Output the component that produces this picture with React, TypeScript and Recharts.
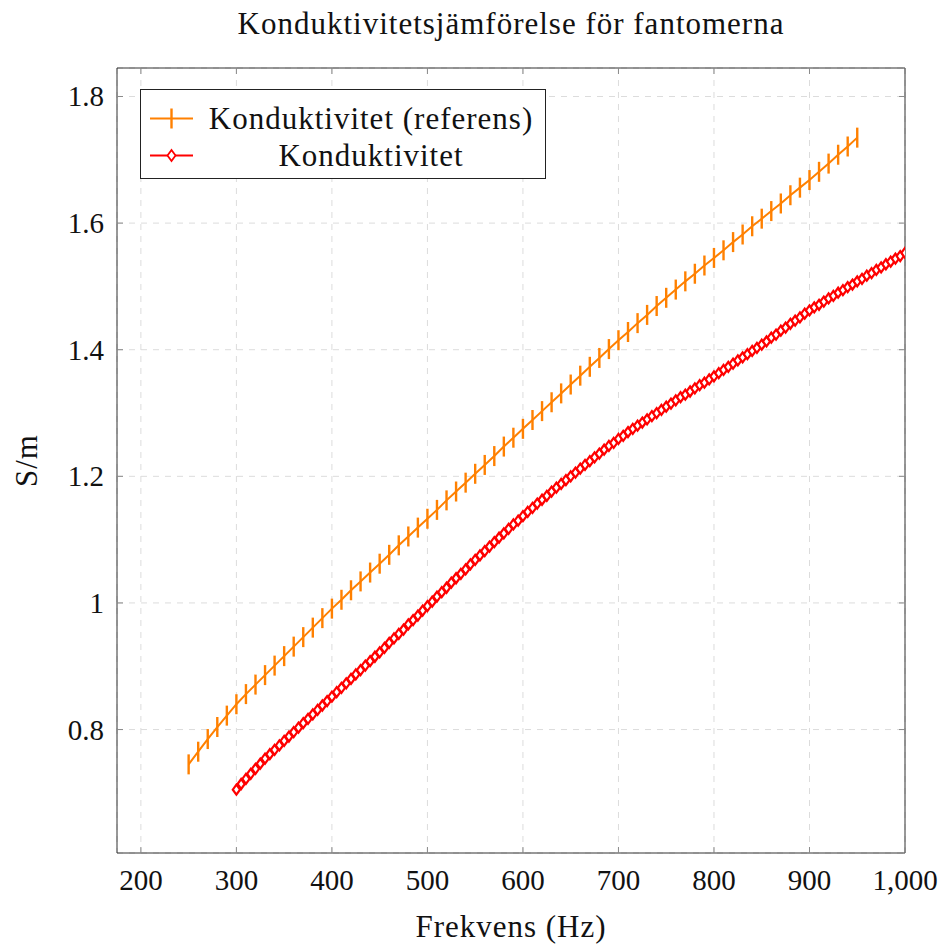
import { CartesianGrid, Label, Legend, Line, LineChart, XAxis, YAxis } from 'recharts'

const ORANGE = '#ff8000'
const RED = '#ff0000'
const FONT = "'Liberation Serif', 'Times New Roman', serif"
const FS = 29 // siffror
const FS_TEXT = 31 // rubriker och förklaring
const LS = 1

// referensmätning, steg 10 Hz
const referensFrekvens = [
  250, 260, 270, 280, 290, 300, 310, 320, 330, 340, 350, 360, 370, 380, 390,
  400, 410, 420, 430, 440, 450, 460, 470, 480, 490, 500, 510, 520, 530, 540,
  550, 560, 570, 580, 590, 600, 610, 620, 630, 640, 650, 660, 670, 680, 690,
  700, 710, 720, 730, 740, 750, 760, 770, 780, 790, 800, 810, 820, 830, 840,
  850, 860, 870, 880, 890, 900, 910, 920, 930, 940, 950,
]
const referensVarden = [
  0.745, 0.765, 0.785, 0.804, 0.822, 0.840, 0.856, 0.871, 0.886, 0.901, 0.916,
  0.931, 0.946, 0.961, 0.976, 0.991, 1.005, 1.020, 1.034, 1.048, 1.062, 1.076,
  1.091, 1.105, 1.119, 1.133, 1.147, 1.162, 1.176, 1.190, 1.204, 1.218, 1.232,
  1.247, 1.261, 1.275, 1.289, 1.303, 1.317, 1.331, 1.345, 1.359, 1.373, 1.387,
  1.401, 1.415, 1.428, 1.442, 1.455, 1.469, 1.482, 1.495, 1.508, 1.520, 1.533,
  1.545, 1.557, 1.570, 1.582, 1.595, 1.607, 1.619, 1.631, 1.644, 1.656, 1.668,
  1.681, 1.694, 1.708, 1.721, 1.735,
]

// fantommätning, steg 5 Hz
const fantomFrekvens = [
  300, 305, 310, 315, 320, 325, 330, 335, 340, 345, 350, 355, 360, 365, 370,
  375, 380, 385, 390, 395, 400, 405, 410, 415, 420, 425, 430, 435, 440, 445,
  450, 455, 460, 465, 470, 475, 480, 485, 490, 495, 500, 505, 510, 515, 520,
  525, 530, 535, 540, 545, 550, 555, 560, 565, 570, 575, 580, 585, 590, 595,
  600, 605, 610, 615, 620, 625, 630, 635, 640, 645, 650, 655, 660, 665, 670,
  675, 680, 685, 690, 695, 700, 705, 710, 715, 720, 725, 730, 735, 740, 745,
  750, 755, 760, 765, 770, 775, 780, 785, 790, 795, 800, 805, 810, 815, 820,
  825, 830, 835, 840, 845, 850, 855, 860, 865, 870, 875, 880, 885, 890, 895,
  900, 905, 910, 915, 920, 925, 930, 935, 940, 945, 950, 955, 960, 965, 970,
  975, 980, 985, 990, 995, 1000,
]
const fantomVarden = [
  0.705, 0.714, 0.722, 0.730, 0.738, 0.746, 0.754, 0.761, 0.768, 0.775, 0.782,
  0.789, 0.796, 0.803, 0.810, 0.817, 0.824, 0.831, 0.838, 0.845, 0.852, 0.859,
  0.866, 0.873, 0.880, 0.887, 0.894, 0.901, 0.908, 0.915, 0.922, 0.929, 0.937,
  0.944, 0.951, 0.958, 0.966, 0.973, 0.980, 0.988, 0.995, 1.002, 1.010, 1.017,
  1.024, 1.032, 1.039, 1.046, 1.053, 1.061, 1.068, 1.075, 1.082, 1.089, 1.096,
  1.103, 1.110, 1.117, 1.124, 1.130, 1.137, 1.144, 1.150, 1.157, 1.163, 1.169,
  1.176, 1.182, 1.188, 1.194, 1.200, 1.206, 1.212, 1.218, 1.224, 1.230, 1.236,
  1.242, 1.248, 1.253, 1.259, 1.264, 1.270, 1.275, 1.280, 1.285, 1.290, 1.295,
  1.300, 1.305, 1.310, 1.315, 1.320, 1.325, 1.329, 1.334, 1.339, 1.344, 1.348,
  1.353, 1.358, 1.363, 1.368, 1.373, 1.378, 1.383, 1.388, 1.393, 1.398, 1.403,
  1.408, 1.413, 1.419, 1.424, 1.430, 1.435, 1.441, 1.446, 1.451, 1.457, 1.462,
  1.467, 1.471, 1.476, 1.481, 1.485, 1.490, 1.494, 1.499, 1.503, 1.508, 1.512,
  1.517, 1.521, 1.526, 1.530, 1.535, 1.539, 1.544, 1.548, 1.553,
]

const xTicks = [200, 300, 400, 500, 600, 700, 800, 900, 1000]
const yTicks = [0.8, 1, 1.2, 1.4, 1.6, 1.8]

const referensData = referensFrekvens.map((f, i) => ({ f, v: referensVarden[i] }))
const fantomData = fantomFrekvens.map((f, i) => ({ f, v: fantomVarden[i] }))

const xDomain = [175, 1000]
const yDomain = [0.605, 1.845]

const fmtX = (v: number) => v.toLocaleString('en-US')
const fmtY = (v: number) => String(v)

const TICK_COLOR = '#8a8a8a'
const FRAME = '#333'

function BottomTick({ x, y, payload }: any) {
  return (
    <g>
      <line x1={x} x2={x} y1={y} y2={y - 6} stroke={TICK_COLOR} />
      <text x={x} y={y + 37} textAnchor="middle" fontSize={FS} fontFamily={FONT} fill="#111">
        {fmtX(payload.value)}
      </text>
    </g>
  )
}

function TopTick({ x, y }: any) {
  return <line x1={x} x2={x} y1={y} y2={y + 6} stroke={TICK_COLOR} />
}

function LeftTick({ x, y, payload }: any) {
  return (
    <g>
      <line x1={x} x2={x + 6} y1={y} y2={y} stroke={TICK_COLOR} />
      <text x={x - 13} y={y + 10} textAnchor="end" fontSize={FS} fontFamily={FONT} fill="#111">
        {fmtY(payload.value)}
      </text>
    </g>
  )
}

function RightTick({ x, y }: any) {
  return <line x1={x} x2={x - 6} y1={y} y2={y} stroke={TICK_COLOR} />
}

const renderBar = (p: any) => (
  <line
    key={`bar-${p.index}`}
    x1={p.cx}
    x2={p.cx}
    y1={p.cy - 10}
    y2={p.cy + 10}
    stroke={ORANGE}
    strokeWidth={2.4}
  />
)

const renderDiamond = (p: any) => (
  <polygon
    key={`dia-${p.index}`}
    points={`${p.cx},${p.cy - 5} ${p.cx + 3.6},${p.cy} ${p.cx},${p.cy + 5} ${p.cx - 3.6},${p.cy}`}
    fill="#fff"
    stroke={RED}
    strokeWidth={2.2}
  />
)

function LegendBox() {
  const rows = [
    { name: 'Konduktivitet (referens)', mark: 'bar' },
    { name: 'Konduktivitet', mark: 'diamond' },
  ]
  return (
    <div
      style={{
        border: '1px solid #222',
        background: '#fff',
        width: 406,
        height: 90,
        paddingTop: 10,
        boxSizing: 'border-box',
        fontFamily: FONT,
        fontSize: FS_TEXT,
        letterSpacing: LS,
        color: '#111',
      }}
    >
      {rows.map((r) => (
        <div key={r.name} style={{ display: 'flex', alignItems: 'center', height: 37 }}>
          <svg width={61} height={37} style={{ flex: 'none' }}>
            {r.mark === 'bar' ? (
              <g>
                <line x1={9} x2={52} y1={18.5} y2={18.5} stroke={ORANGE} strokeWidth={2} />
                <line x1={30.5} x2={30.5} y1={8.5} y2={28.5} stroke={ORANGE} strokeWidth={2.4} />
              </g>
            ) : (
              <g>
                <line x1={9} x2={52} y1={18.5} y2={18.5} stroke={RED} strokeWidth={2} />
                <polygon points="30.5,13 34.5,18.5 30.5,24 26.5,18.5" fill="#fff" stroke={RED} strokeWidth={1.8} />
              </g>
            )}
          </svg>
          <div style={{ width: 338, textAlign: 'center', lineHeight: '37px', whiteSpace: 'nowrap' }}>{r.name}</div>
        </div>
      ))}
    </div>
  )
}

export default function App() {
  return (
    <div style={{ position: 'absolute', left: 0, top: 0, width: 943, height: 946, background: '#fff' }}>
      <LineChart
        width={943}
        height={946}
        margin={{ top: 67, right: 37, bottom: 0, left: 0 }}
        style={{ fontFamily: FONT }}
      >
        <CartesianGrid stroke="#dcdcdc" strokeDasharray="6 6" />
        <XAxis
          dataKey="f"
          type="number"
          domain={xDomain}
          ticks={xTicks}
          allowDataOverflow
          height={93}
          tickSize={0}
          tickMargin={0}
          tick={BottomTick}
          axisLine={{ stroke: FRAME }}
        >
          <Label
            content={({ viewBox }: any) => (
              <text
                x={viewBox.x + viewBox.width / 2}
                y={viewBox.y + 84}
                textAnchor="middle"
                fontSize={FS_TEXT}
                letterSpacing={LS}
                fontFamily={FONT}
                fill="#111"
              >
                Frekvens (Hz)
              </text>
            )}
          />
        </XAxis>
        <XAxis
          xAxisId="top"
          orientation="top"
          dataKey="f"
          type="number"
          domain={xDomain}
          ticks={xTicks}
          allowDataOverflow
          height={1}
          tickSize={0}
          tickMargin={0}
          tick={TopTick}
          axisLine={{ stroke: FRAME }}
        >
          <Label
            content={({ viewBox }: any) => (
              <text
                x={viewBox.x + viewBox.width / 2}
                y={viewBox.y - 33}
                textAnchor="middle"
                fontSize={FS_TEXT}
                letterSpacing={LS}
                fontFamily={FONT}
                fill="#111"
              >
                Konduktivitetsjämförelse för fantomerna
              </text>
            )}
          />
        </XAxis>
        <YAxis
          type="number"
          domain={yDomain}
          ticks={yTicks}
          allowDataOverflow
          width={117}
          tickSize={0}
          tickMargin={0}
          tick={LeftTick}
          axisLine={{ stroke: FRAME }}
        >
          <Label
            content={({ viewBox }: any) => {
              const cx = viewBox.x + 37
              const cy = viewBox.y + viewBox.height / 2
              return (
                <text
                  x={cx}
                  y={cy}
                  transform={`rotate(-90 ${cx} ${cy})`}
                  textAnchor="middle"
                  fontSize={FS_TEXT}
                  letterSpacing={LS}
                  fontFamily={FONT}
                  fill="#111"
                >
                  S/m
                </text>
              )
            }}
          />
        </YAxis>
        <YAxis
          yAxisId="right"
          orientation="right"
          type="number"
          domain={yDomain}
          ticks={yTicks}
          allowDataOverflow
          width={1}
          tickSize={0}
          tickMargin={0}
          tick={RightTick}
          axisLine={{ stroke: FRAME }}
        />
        <Legend
          layout="vertical"
          align="center"
          verticalAlign="middle"
          wrapperStyle={{ left: 140, top: 89, width: 406 }}
          content={() => <LegendBox />}
        />
        {/* osynlig serie så att övre och högra axeln (ramen) ritas */}
        <Line
          xAxisId="top"
          yAxisId="right"
          data={referensData}
          dataKey="v"
          stroke="none"
          dot={false}
          activeDot={false}
          legendType="none"
          isAnimationActive={false}
        />
        <Line
          data={referensData}
          dataKey="v"
          name="Konduktivitet (referens)"
          type="linear"
          stroke={ORANGE}
          strokeWidth={2}
          dot={renderBar}
          activeDot={false}
          isAnimationActive={false}
        />
        <Line
          data={fantomData}
          dataKey="v"
          name="Konduktivitet"
          type="linear"
          stroke={RED}
          strokeWidth={2}
          dot={renderDiamond}
          activeDot={false}
          isAnimationActive={false}
        />
      </LineChart>
    </div>
  )
}
